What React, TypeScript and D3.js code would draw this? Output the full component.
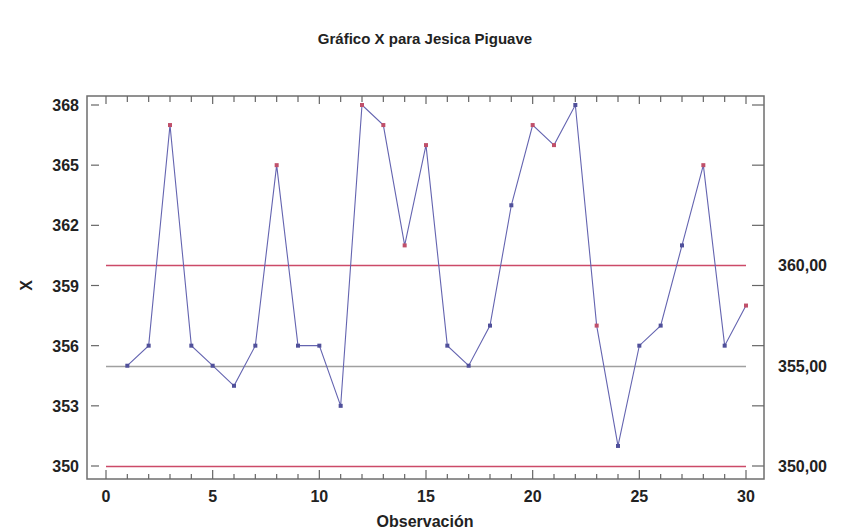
import React from "react";
import * as d3 from "d3";

const observations = d3.range(1, 31);
const values = [355, 356, 367, 356, 355, 354, 356, 365, 356, 356, 353, 368, 367, 361, 366, 356, 355, 357, 363, 367, 366, 368, 357, 351, 356, 357, 361, 365, 356, 358];
const flagged = [0, 0, 1, 0, 0, 0, 0, 1, 0, 0, 0, 1, 1, 1, 1, 0, 0, 0, 0, 1, 1, 0, 1, 0, 0, 0, 0, 1, 0, 1];
const leftTicks = [350, 353, 356, 359, 362, 365, 368];
const xTicks = [0, 5, 10, 15, 20, 25, 30];
const limits = { ucl: 360, center: 355, lcl: 350 };
const rightLabels = ["360,00", "355,00", "350,00"];
const rightValues = [360, 355, 350];

const W = 847, H = 531;
const L = 87, R = 764, T = 96, B = 479;

export default function App() {
  const x = d3.scaleLinear().domain([0, 30]).range([106, 746]);
  const y = d3.scaleLinear().domain([350, 368]).range([466, 105]);
  const line = d3.line<number>().x((_, i) => x(observations[i])).y((d) => y(d));
  const font = "'Liberation Sans', Arial, sans-serif";
  const minor = d3.range(0, 31);
  const snap = (v: number) => Math.round(v) + 0.5;
  return (
    <svg width={W} height={H} style={{ position: "absolute", left: 0, top: 0, background: "#fff" }}>
      <text x={425} y={44} textAnchor="middle" fontFamily={font} fontWeight="bold" fontSize={15} fill="#222">
        Gráfico X para Jesica Piguave
      </text>
      {/* limit lines */}
      <line x1={x(0)} x2={x(30)} y1={snap(y(limits.ucl))} y2={snap(y(limits.ucl))} stroke="#cc4a68" strokeWidth={1.6} />
      <line x1={x(0)} x2={x(30)} y1={snap(y(limits.center))} y2={snap(y(limits.center))} stroke="#a0a0a0" strokeWidth={1.5} />
      <line x1={x(0)} x2={x(30)} y1={snap(y(limits.lcl))} y2={snap(y(limits.lcl))} stroke="#cc4a68" strokeWidth={1.6} />
      {/* data */}
      <path d={line(values) || ""} fill="none" stroke="#6464b0" strokeWidth={1.1} />
      {values.map((v, i) => (
        <rect key={i} x={x(observations[i]) - 2} y={y(v) - 2} width={4} height={4}
          fill={flagged[i] ? "#c0506a" : "#50509a"} />
      ))}
      {/* frame */}
      <rect x={L} y={T} width={R - L} height={B - T} fill="none" stroke="#6e6e6e" strokeWidth={1.5} />
      {/* left ticks */}
      {leftTicks.map((t) => (
        <g key={"l" + t}>
          <line x1={L + 4} x2={L + 12} y1={y(t)} y2={y(t)} stroke="#666" strokeWidth={1.2} />
          <line x1={R - 12} x2={R} y1={y(t)} y2={y(t)} stroke="#666" strokeWidth={1.2} />
          <text x={79} y={y(t) + 6} textAnchor="end" fontFamily={font} fontWeight="bold" fontSize={16} fill="#222">{t}</text>
        </g>
      ))}
      {rightValues.map((v, i) => (
        <text key={"r" + v} x={778} y={y(v) + 6} fontFamily={font} fontWeight="bold" fontSize={16} fill="#222">{rightLabels[i]}</text>
      ))}
      {/* x ticks */}
      {minor.map((t) => {
        const major = t % 5 === 0;
        return (
          <g key={"x" + t}>
            <line x1={x(t)} x2={x(t)} y1={B} y2={B - (major ? 9 : 5)} stroke="#666" strokeWidth={1.2} />
            <line x1={x(t)} x2={x(t)} y1={T} y2={T + (major ? 8 : 6)} stroke="#666" strokeWidth={1.2} />
          </g>
        );
      })}
      {xTicks.map((t) => (
        <text key={"xt" + t} x={x(t)} y={502} textAnchor="middle" fontFamily={font} fontWeight="bold" fontSize={16} fill="#222">{t}</text>
      ))}
      <text x={425} y={527} textAnchor="middle" fontFamily={font} fontWeight="bold" fontSize={16} fill="#222">Observación</text>
      <text transform={`translate(26, ${y(359)}) rotate(-90)`} textAnchor="middle" dy={6} fontFamily={font} fontWeight="bold" fontSize={16} fill="#222">X</text>
    </svg>
  );
}
